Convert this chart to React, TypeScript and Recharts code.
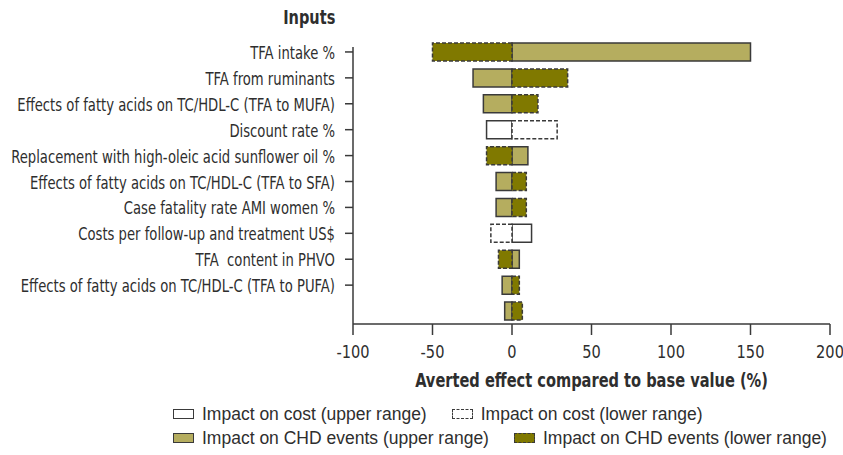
import { BarChart, Bar, XAxis, YAxis, Label } from 'recharts'

const inputs = [
  'TFA intake %',
  'TFA from ruminants',
  'Effects of fatty acids on TC/HDL-C (TFA to MUFA)',
  'Discount rate %',
  'Replacement with high-oleic acid sunflower oil %',
  'Effects of fatty acids on TC/HDL-C (TFA to SFA)',
  'Case fatality rate AMI women %',
  'Costs per follow-up and treatment US$',
  'TFA  content in PHVO',
  'Effects of fatty acids on TC/HDL-C (TFA to PUFA)',
  '',
]

const costUpper = [null, null, null, -16, null, null, null, 12.3, null, null, null]
const costLower = [null, null, null, 28.4, null, null, null, -13.3, null, null, null]
const chdUpper = [150, -24.5, -18, null, 10, -10, -10, null, 4.6, -6.2, -4.6]
const chdLower = [-50, 35, 16.3, null, -16, 9, 9, null, -8.5, 4.6, 6.5]

const xTicks = [-100, -50, 0, 50, 100, 150, 200]

const data = inputs.map((name, i) => ({
  name,
  costUpper: costUpper[i],
  costLower: costLower[i],
  chdUpper: chdUpper[i],
  chdLower: chdLower[i],
}))

const LIGHT = '#b5ad5f'
const DARK = '#807900'
const INK = '#3a3a3a'
const TEXT = '#2e2e2e'
const narrow = "'DejaVu Sans Condensed', 'DejaVu Sans', sans-serif"

const legendRows = [
  [
    { label: 'Impact on cost (upper range)', fill: '#fff', dash: false },
    { label: 'Impact on cost (lower range)', fill: '#fff', dash: true },
  ],
  [
    { label: 'Impact on CHD events (upper range)', fill: LIGHT, dash: false },
    { label: 'Impact on CHD events (lower range)', fill: DARK, dash: true },
  ],
]

// condensed look: squeeze the DejaVu glyphs horizontally
function InputTick(props: any) {
  const { x, y, payload } = props
  if (!payload.value) return null
  return (
    <g>
      <line x1={x + 10} x2={x + 18} y1={y} y2={y} stroke={INK} strokeWidth={1.5} />
      <text
        transform={`translate(${x},${y + 7}) scale(0.815,1)`}
        textAnchor="end"
        fontSize={18}
        fill={TEXT}
        fontFamily={narrow}
        style={{ whiteSpace: 'pre' }}
      >
        {payload.value}
      </text>
    </g>
  )
}

function ValueTick(props: any) {
  const { x, y, payload } = props
  return (
    <text
      transform={`translate(${x},${y + 17}) scale(0.9,1)`}
      textAnchor="middle"
      fontSize={18}
      fill={TEXT}
      fontFamily={narrow}
    >
      {payload.value}
    </text>
  )
}

function AxisTitle(props: any) {
  const { viewBox } = props
  const cx = viewBox.x + viewBox.width / 2
  return (
    <text
      transform={`translate(${cx},${viewBox.y + 63}) scale(0.855,1)`}
      textAnchor="middle"
      fontSize={19}
      fontWeight="bold"
      fill={TEXT}
      fontFamily={narrow}
    >
      Averted effect compared to base value (%)
    </text>
  )
}

export default function App() {
  return (
    <div style={{ position: 'absolute', left: 0, top: 0, width: 843, height: 455, background: '#fff' }}>
      <div
        style={{
          position: 'absolute',
          right: 843 - 335,
          top: 6,
          fontFamily: narrow,
          fontWeight: 'bold',
          fontSize: 19,
          color: TEXT,
          transform: 'scaleX(0.85)',
          transformOrigin: 'right center',
        }}
      >
        Inputs
      </div>
      <BarChart
        width={843}
        height={455}
        data={data}
        layout="vertical"
        stackOffset="sign"
        margin={{ top: 47, right: 13, bottom: 0, left: 0 }}
      >
        <XAxis
          type="number"
          domain={[-100, 200]}
          ticks={xTicks}
          axisLine={{ stroke: INK, strokeWidth: 1.5 }}
          tickLine={{ stroke: INK, strokeWidth: 1.5 }}
          tickSize={11}
          tickMargin={6}
          height={131}
          tick={<ValueTick />}
        >
          <Label content={<AxisTitle />} />
        </XAxis>
        <YAxis
          type="category"
          dataKey="name"
          width={353}
          padding={{ top: -8, bottom: 0 }}
          axisLine={{ stroke: INK, strokeWidth: 1.5 }}
          tickLine={false}
          tickSize={8}
          tickMargin={10}
          interval={0}
          tick={<InputTick />}
        />
        <Bar dataKey="costUpper" stackId="a" barSize={18} fill="#fff" stroke={INK} strokeWidth={1.5} isAnimationActive={false} />
        <Bar dataKey="costLower" stackId="a" barSize={18} fill="#fff" stroke={INK} strokeWidth={1.5} strokeDasharray="4 2" isAnimationActive={false} />
        <Bar dataKey="chdUpper" stackId="a" barSize={18} fill={LIGHT} stroke={INK} strokeWidth={1.5} isAnimationActive={false} />
        <Bar dataKey="chdLower" stackId="a" barSize={18} fill={DARK} stroke={INK} strokeWidth={1.5} strokeDasharray="4 2" isAnimationActive={false} />
      </BarChart>
      <div
        style={{
          position: 'absolute',
          left: 173,
          top: 402,
          width: 670,
          whiteSpace: 'nowrap',
          fontFamily: "'Liberation Sans', sans-serif",
          fontSize: 17.5,
          lineHeight: '24px',
          color: TEXT,
        }}
      >
        {legendRows.map((row, r) => (
          <div key={r} style={{ display: 'flex', alignItems: 'center', height: 24 }}>
            {row.map((item, i) => (
              <div key={i} style={{ display: 'flex', alignItems: 'center', marginRight: 25, flexShrink: 0 }}>
                <span
                  style={{
                    display: 'inline-block',
                    width: 19,
                    height: 8,
                    background: item.fill,
                    border: `1.5px ${item.dash ? 'dashed' : 'solid'} ${INK}`,
                    marginRight: 8,
                  }}
                />
                <span>{item.label}</span>
              </div>
            ))}
          </div>
        ))}
      </div>
    </div>
  )
}
